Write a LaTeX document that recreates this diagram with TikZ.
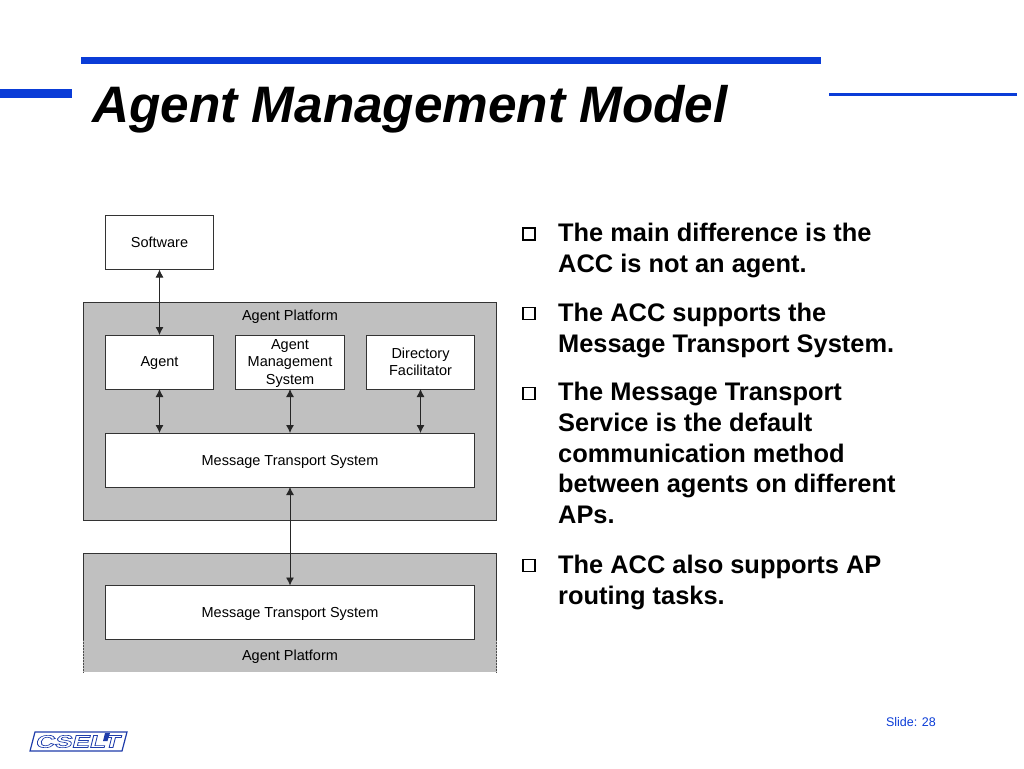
\documentclass[tikz,border=0pt]{standalone}
\usepackage{fontspec}
\setmainfont{Liberation Sans}
\usetikzlibrary{arrows.meta}
\definecolor{slideblue}{RGB}{10,60,215}
\definecolor{platformgray}{RGB}{192,192,192}
\definecolor{logoblue}{RGB}{30,60,170}

\begin{document}
\begin{tikzpicture}[
        x=1pt, y=-1pt, >={Latex[length=8pt,width=8pt]},
        blockbox/.style={draw=black!80, fill=white, line width=0.9pt, minimum height=54pt,
                         inner sep=0pt, outer sep=0pt, align=center, font=\fontsize{14.5}{17.5}\selectfont},
        smallbox/.style={blockbox, minimum width=108.5pt},
        widebox/.style={blockbox, minimum width=369.5pt},
        nodepth/.style={text depth=0pt},
        platformlabel/.style={inner sep=0pt, font=\fontsize{14.5}{17.5}\selectfont},
        bulletbox/.style={draw=black, line width=1.3pt, minimum size=12pt, inner sep=0pt},
        bullettext/.style={anchor=base west, inner sep=0pt, align=left,
                           font=\fontsize{25.4}{30.7}\selectfont\bfseries},
        link/.style={<->, line width=0.9pt, black!85},
    ]
    \useasboundingbox (0,0) rectangle (1024,768);

    % header rules
    \fill[slideblue] (81,57) rectangle (821,63.5);
    \fill[slideblue] (0,89) rectangle (72,98);
    \fill[slideblue] (829,92.5) rectangle (1017,95.5);
    \node[anchor=base west, inner sep=0pt, font=\fontsize{51.3}{60}\selectfont\bfseries\itshape]
        (title) at (92,122) {Agent Management Model};

    % platforms
    \draw[black!80, fill=platformgray, line width=0.9pt] (83,302) rectangle (496.5,520);
    \fill[platformgray] (83,553) rectangle (496.5,672);
    \draw[black!80, line width=0.9pt] (83,640) -- (83,553) -- (496.5,553) -- (496.5,640);
    \draw[black!70, densely dotted, line width=0.5pt] (83,640) -- (83,672);
    \draw[black!70, densely dotted, line width=0.5pt] (496.5,640) -- (496.5,672);
    \node[platformlabel, nodepth] (upperlabel) at (290,315.5) {Agent Platform};
    \node[platformlabel, nodepth] (lowerlabel) at (290,655.5) {Agent Platform};

    % boxes
    \node[smallbox] (software) at (159.5,242.5) {Software};
    \node[smallbox, nodepth] (agent) at (159.5,362) {Agent};
    \node[smallbox, nodepth] (ams) at (290,362) {Agent\\Management\\System};
    \node[smallbox] (df) at (420.5,362) {Directory\\Facilitator};
    \node[widebox, nodepth] (mts) at (290,460) {Message Transport System};
    \node[widebox, nodepth] (mtslower) at (290,612.5) {Message Transport System};

    % connectors
    \draw[link] (software) -- (agent);
    \draw[link] (agent) -- (agent |- mts.north);
    \draw[link] (ams) -- (mts);
    \draw[link] (df) -- (df |- mts.north);
    \draw[link] (mts) -- (mtslower);

    % bullets
    \node[bulletbox] (b1) at (529,234) {};
    \node[bullettext] (t1) at (558,272) {The main difference is the\\ACC is not an agent.};
    \node[bulletbox] (b2) at (529,313.5) {};
    \node[bullettext] (t2) at (558,352) {The ACC supports the\\Message Transport System.};
    \node[bulletbox] (b3) at (529,393.5) {};
    \node[bullettext] (t3) at (558,523.5) {The Message Transport\\Service is the default\\communication method\\between agents on different\\APs.};
    \node[bulletbox] (b4) at (529,565.5) {};
    \node[bullettext] (t4) at (558,604) {The ACC also supports AP\\routing tasks.};

    % footer
    \node[anchor=base east, inner sep=0pt, text=slideblue, font=\fontsize{12.5}{15}\selectfont]
        (slideno) at (936,726) {Slide: 28};
    \draw[logoblue, line width=1.2pt] (35,732) -- (127,732) -- (122,751) -- (30,751) -- cycle;
    \node[inner sep=0pt, text=white, xslant=0.25, xscale=1.5, font=\fontsize{17.5}{20}\selectfont\bfseries]
        (logo) at (78.5,741.5) {\special{pdf:code 2 Tr 0.6 w 0.12 0.24 0.67 RG}CSELT\special{pdf:code 0 Tr}};
    \fill[logoblue] (105,733) -- (110,733) -- (107.5,741) -- (103,741) -- cycle;
\end{tikzpicture}
\end{document}
